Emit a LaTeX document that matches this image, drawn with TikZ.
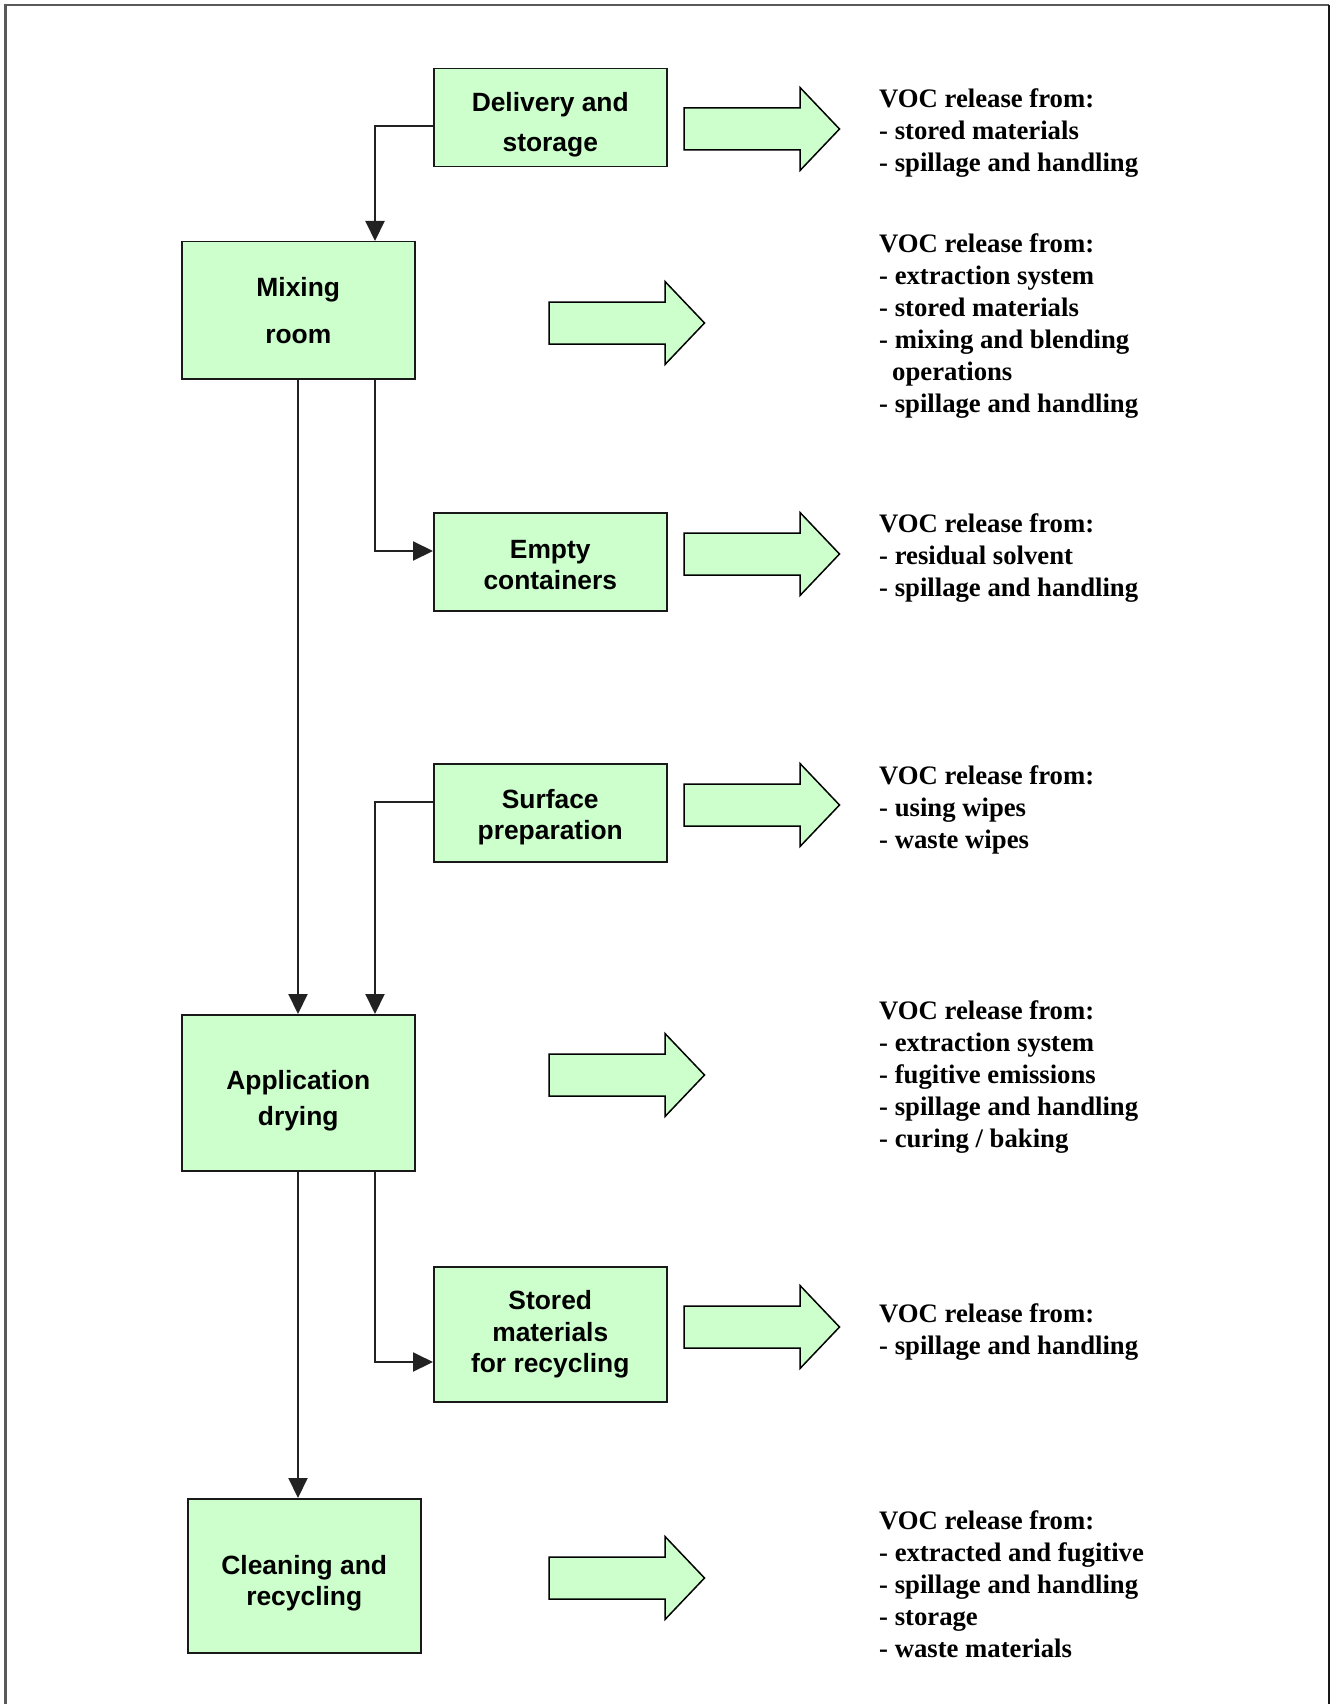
\documentclass[tikz,border=0pt]{standalone}
\usepackage{fontspec}
\setmainfont{Liberation Serif}
\newfontfamily\boxfont{Liberation Sans}
\usetikzlibrary{arrows.meta}
\definecolor{boxgreen}{HTML}{CCFFCC}
\definecolor{linegray}{HTML}{222222}
\tikzset{
  procbox/.style={draw=black!90, fill=boxgreen, line width=1.5pt, align=center,
    inner sep=0pt, minimum width=233pt, anchor=north west},
  bf/.style={font=\boxfont\bfseries\fontsize{26.4}{#1}\selectfont},
  conn/.style={draw=linegray, line width=2pt, -{Triangle[length=20pt,width=19pt]}},
  voctext/.style={anchor=north west, align=left, inner sep=0pt,
    font=\bfseries\fontsize{26.7}{32}\selectfont},
  arrowbody/.style={draw=black, fill=boxgreen, line width=1.5pt, line join=miter},
  bigarrow/.pic={\path[arrowbody] (0,-21) -- (116,-21) -- (116,-41.5) -- (155.5,0)
     -- (116,41.5) -- (116,21) -- (0,21) -- cycle;}
}
\newcommand{\fstrut}{\rule{0pt}{20pt}}
% lowers a centred box text: first line made taller by twice the shift
\newcommand{\lowr}[1]{\rule{0pt}{\dimexpr 19.5pt+#1pt+#1pt\relax}}
\begin{document}
\begin{tikzpicture}[x=1pt,y=-1pt]
\useasboundingbox (0,0) rectangle (1336,1704);
% frame
\draw[draw=black!65, line width=2.5pt] (5.5,1710) -- (5.5,5) -- (1329,5);
\draw[draw=black!90, line width=2.5pt] (1329,5) -- (1329,1710);

% process boxes
\node[procbox, bf=40, minimum height=98pt]  (deliv)  at (433,68)   {\lowr{6.5}Delivery and\\storage};
\node[procbox, bf=47, minimum height=137pt] (mix)    at (181,241)  {Mixing\\room};
\node[procbox, bf=30.4, minimum height=98pt] (empty) at (433,512)  {\lowr{2.5}Empty\\containers};
\node[procbox, bf=31.5, minimum height=98pt] (surf)  at (433,763)  {\lowr{4}Surface\\preparation};
\node[procbox, bf=36, minimum height=156pt] (app)    at (181,1014) {\lowr{7.5}Application\\drying};
\node[procbox, bf=31.5, minimum height=135pt] (stored) at (433,1266) {Stored\\materials\\for recycling};
\node[procbox, bf=31.5, minimum height=154pt] (clean) at (187,1498) {\lowr{7.5}Cleaning and\\recycling};

% connector coordinates
\coordinate (colA) at (298,0);
\coordinate (colB) at (375,0);
\coordinate (rowD) at (0,126);
\coordinate (rowE) at (0,551);
\coordinate (rowS) at (0,802);
\coordinate (rowR) at (0,1362);

\draw[conn] (deliv.west |- rowD) -- (colB |- rowD) -- (colB |- mix.north);
\draw[conn] (colA |- mix.south) -- (colA |- app.north);
\draw[conn] (colB |- mix.south) -- (colB |- rowE) -- (empty.west |- rowE);
\draw[conn] (surf.west |- rowS) -- (colB |- rowS) -- (colB |- app.north);
\draw[conn] (colA |- app.south) -- (colA |- clean.north);
\draw[conn] (colB |- app.south) -- (colB |- rowR) -- (stored.west |- rowR);

% big arrows
\pic at (684,129) {bigarrow};
\pic at (549,323) {bigarrow};
\pic at (684,554) {bigarrow};
\pic at (684,805) {bigarrow};
\pic at (549,1075) {bigarrow};
\pic at (684,1327) {bigarrow};
\pic at (549,1578) {bigarrow};

% VOC texts
\node[voctext] (t1) at (879,87)  {\fstrut VOC release from:\\- stored materials\\- spillage and handling};
\node[voctext] (t2) at (879,232) {\fstrut VOC release from:\\- extraction system\\- stored materials\\- mixing and blending\\\hspace*{13pt}operations\\- spillage and handling};
\node[voctext] (t3) at (879,512) {\fstrut VOC release from:\\- residual solvent\\- spillage and handling};
\node[voctext] (t4) at (879,764) {\fstrut VOC release from:\\- using wipes\\- waste wipes};
\node[voctext] (t5) at (879,999) {\fstrut VOC release from:\\- extraction system\\- fugitive emissions\\- spillage and handling\\- curing / baking};
\node[voctext] (t6) at (879,1302) {\fstrut VOC release from:\\- spillage and handling};
\node[voctext] (t7) at (879,1509) {\fstrut VOC release from:\\- extracted and fugitive\\- spillage and handling\\- storage\\- waste materials};
\end{tikzpicture}
\end{document}
